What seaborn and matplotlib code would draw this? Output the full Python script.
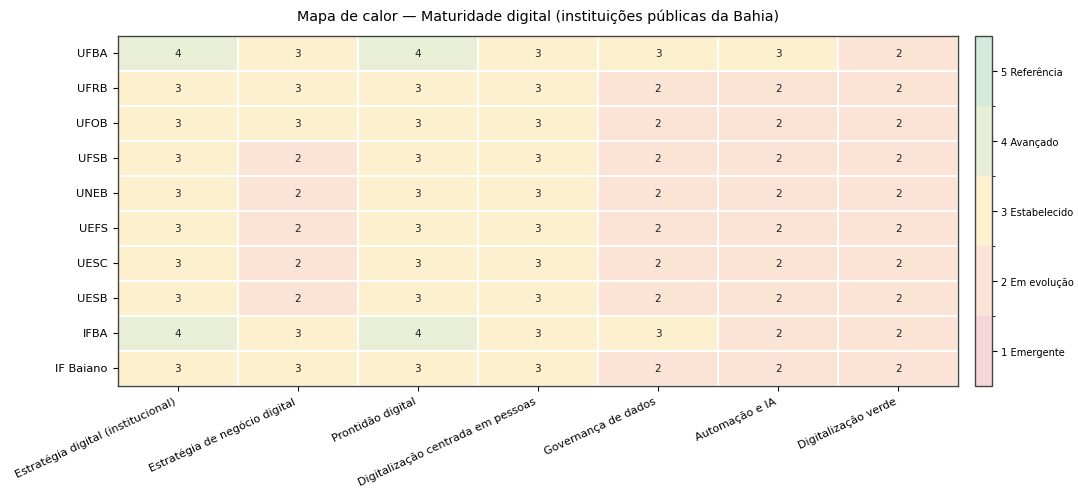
import pandas as pd
import seaborn as sns
import matplotlib.pyplot as plt
from matplotlib.colors import ListedColormap

institutions = ["UFBA", "UFRB", "UFOB", "UFSB", "UNEB", "UEFS", "UESC", "UESB", "IFBA", "IF Baiano"]
dimensions = [
    "Estratégia digital (institucional)",
    "Estratégia de negócio digital",
    "Prontidão digital",
    "Digitalização centrada em pessoas",
    "Governança de dados",
    "Automação e IA",
    "Digitalização verde",
]
scores = [
    [4, 3, 4, 3, 3, 3, 2],
    [3, 3, 3, 3, 2, 2, 2],
    [3, 3, 3, 3, 2, 2, 2],
    [3, 2, 3, 3, 2, 2, 2],
    [3, 2, 3, 3, 2, 2, 2],
    [3, 2, 3, 3, 2, 2, 2],
    [3, 2, 3, 3, 2, 2, 2],
    [3, 2, 3, 3, 2, 2, 2],
    [4, 3, 4, 3, 3, 2, 2],
    [3, 3, 3, 3, 2, 2, 2],
]
level_labels = ["1 Emergente", "2 Em evolução", "3 Estabelecido", "4 Avançado", "5 Referência"]
level_colors = ["#f7d6d9", "#fbe3d5", "#fdf0cf", "#e8efd6", "#d3eadc"]

data = pd.DataFrame(scores, index=institutions, columns=dimensions)

fig = plt.figure(figsize=(10.78, 4.89), dpi=100)
ax = fig.add_axes([0.109, 0.209, 0.78, 0.716])
cax = fig.add_axes([0.904, 0.209, 0.016, 0.716])

sns.heatmap(
    data,
    ax=ax, cbar_ax=cax,
    cmap=ListedColormap(level_colors),
    vmin=0.5, vmax=5.5,
    annot=True, fmt="d",
    annot_kws={"fontsize": 7.5, "color": "#222222"},
    linewidths=1.2, linecolor="white",
    cbar_kws={"ticks": [1, 2, 3, 4, 5]},
)

for s in ax.spines.values():
    s.set_visible(True)
    s.set_color("#444444")
    s.set_linewidth(1)

ax.set_xticklabels(ax.get_xticklabels(), rotation=25, horizontalalignment="right", fontsize=8.0)
ax.set_yticklabels(ax.get_yticklabels(), rotation=0, fontsize=8.2)
ax.set_xlabel("")
ax.set_ylabel("")
ax.set_title("Mapa de calor — Maturidade digital (instituições públicas da Bahia)", fontsize=10.3, pad=11)

cbar = ax.collections[0].colorbar
cbar.set_ticklabels(level_labels)
cbar.ax.set_yticks([1.5, 2.5, 3.5, 4.5], minor=True)
cbar.ax.tick_params(labelsize=7.1)
cbar.ax.tick_params(which="minor", length=2)
cbar.outline.set_visible(True)
cbar.outline.set_edgecolor("#444444")
cbar.outline.set_linewidth(1)

fig.savefig("out.png", dpi=100)
